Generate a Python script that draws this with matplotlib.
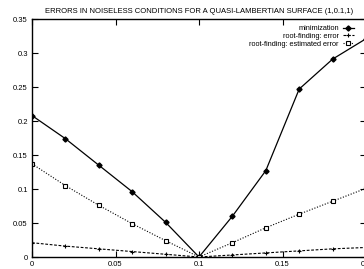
import matplotlib
matplotlib.use('Agg')
import matplotlib.pyplot as plt

plt.rcParams['font.family'] = ['Liberation Sans', 'DejaVu Sans']

x = [0.0, 0.02, 0.04, 0.06, 0.08, 0.1, 0.12, 0.14, 0.16, 0.18, 0.2]
minimization = [0.208, 0.174, 0.135, 0.096, 0.051, 0.0, 0.060, 0.127, 0.247, 0.291, 0.321]
rf_error = [0.021, 0.016, 0.012, 0.008, 0.004, 0.0, 0.003, 0.006, 0.009, 0.012, 0.014]
rf_estimated = [0.137, 0.105, 0.076, 0.049, 0.024, 0.0, 0.021, 0.043, 0.063, 0.082, 0.101]

xticks = [0, 0.05, 0.1, 0.15, 0.2]
xticklabels = ['0', '0.05', '0.1', '0.15', '0.2']
yticks = [0, 0.05, 0.1, 0.15, 0.2, 0.25, 0.3, 0.35]
yticklabels = ['0', '0.05', '0.1', '0.15', '0.2', '0.25', '0.3', '0.35']

fig = plt.figure(figsize=(3.64, 2.69), dpi=100)
ax = fig.add_axes([32 / 364, 1 - 257 / 269, 334 / 364, 238 / 269])

ax.plot(x, minimization, color='black', lw=0.9, ls='-', marker='D', ms=2.6,
        mfc='black', mec='black', label='minimization')
ax.plot(x, rf_error, color='black', lw=0.8, ls=(0, (2.5, 1.5)), marker='+', ms=3,
        mew=0.8, label='root-finding: error')
ax.plot(x, rf_estimated, color='black', lw=0.8, ls=(0, (1, 1.5)), marker='s', ms=3,
        mfc='white', mec='black', mew=0.8, label='root-finding: estimated error')

ax.set_xlim(0, 0.2)
ax.set_ylim(0, 0.35)
ax.set_xticks(xticks)
ax.set_xticklabels(xticklabels)
ax.set_yticks(yticks)
ax.set_yticklabels(yticklabels)
ax.tick_params(direction='in', top=True, right=True, length=4, width=0.8,
               labelsize=5.5, colors='black', pad=3)
for s in ax.spines.values():
    s.set_linewidth(1.0)

ax.set_title('ERRORS IN NOISELESS CONDITIONS FOR A QUASI-LAMBERTIAN SURFACE (1,0.1,1)',
             fontsize=5.5, pad=4)

ax.legend(loc='upper right', frameon=False, markerfirst=False, fontsize=5.3,
          handlelength=1.6, handletextpad=0.5, labelspacing=0.1,
          borderpad=0, borderaxespad=0, bbox_to_anchor=(0.965, 0.975))

fig.savefig('out.png', dpi=100)
